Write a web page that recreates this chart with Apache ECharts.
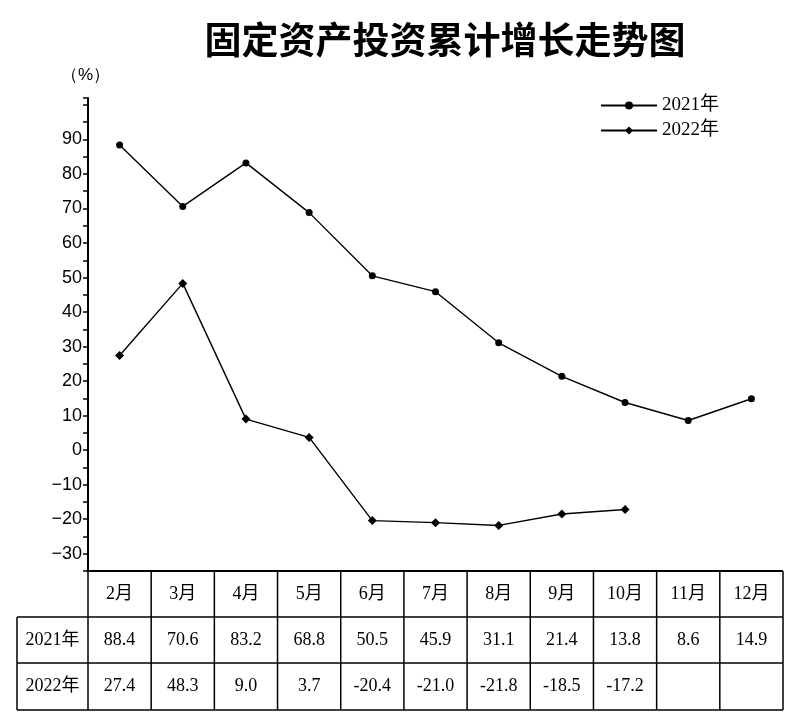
<!DOCTYPE html>
<html><head><meta charset="utf-8">
<script src="https://cdn.jsdelivr.net/npm/echarts@6/dist/echarts.min.js"></script>
<style>html,body{margin:0;padding:0;background:#fff}#c{width:794px;height:724px}</style>
</head><body><div id="c"></div>
<script>
const months = ['2月','3月','4月','5月','6月','7月','8月','9月','10月','11月','12月'];
const y2021 = [88.4,70.6,83.2,68.8,50.5,45.9,31.1,21.4,13.8,8.6,14.9];
const y2022 = [27.4,48.3,9.0,3.7,-20.4,-21.0,-21.8,-18.5,-17.2,null,null];
const label2021 = ['88.4','70.6','83.2','68.8','50.5','45.9','31.1','21.4','13.8','8.6','14.9'];
const label2022 = ['27.4','48.3','9.0','3.7','-20.4','-21.0','-21.8','-18.5','-17.2','',''];

const L = 88, R = 783, TOP = 98, BOT = 571;
const ROW2 = 617, ROW3 = 663, END = 710, TL = 17;
const cw = (R - L) / months.length;
const font = '"Liberation Serif","Noto Sans CJK SC",serif';
const g = [];
const line = (x1,y1,x2,y2,w)=>g.push({type:'line',shape:{x1,y1,x2,y2},style:{stroke:'#000',lineWidth:w||1.5}});
line(L,BOT,R,BOT,2); line(R,BOT,R,END); line(TL,ROW2,R,ROW2); line(TL,ROW3,R,ROW3); line(TL,END,R,END);
line(TL,ROW2,TL,END);
for (let i=0;i<months.length;i++) line(L+i*cw,BOT,L+i*cw,END);
const txt=(t,x,y)=>g.push({type:'text',x,y,style:{text:t,font:'18px '+font,fill:'#000',align:'center',verticalAlign:'middle'}});
txt('2021年',(TL+L)/2,(ROW2+ROW3)/2); txt('2022年',(TL+L)/2,(ROW3+END)/2);
months.forEach((m,i)=>{const cx=L+(i+0.5)*cw;txt(m,cx,(BOT+ROW2)/2);txt(label2021[i],cx,(ROW2+ROW3)/2);txt(label2022[i],cx,(ROW3+END)/2);});

const chart = echarts.init(document.getElementById('c'));
chart.setOption({
  animation:false,
  title:{text:'固定资产投资累计增长走势图',left:440,top:16,textAlign:'center',textStyle:{fontSize:37,fontWeight:'bold',color:'#000',fontFamily:'"Noto Sans CJK SC",sans-serif'}},
  legend:{right:70,top:91,orient:'vertical',itemWidth:56,itemHeight:10,itemGap:6,
    textStyle:{fontSize:19,color:'#000',fontFamily:font},data:['2021年','2022年']},
  grid:{left:L,right:794-R,top:TOP,bottom:724-BOT},
  xAxis:{type:'category',data:months,boundaryGap:true,axisLine:{show:false},axisTick:{show:false},axisLabel:{show:false}},
  yAxis:{type:'value',min:-35,max:102,interval:5,name:'（%）',nameLocation:'end',nameGap:14,
    nameTextStyle:{fontSize:17,color:'#000',align:'right',padding:[0,-22,0,0]},
    axisLine:{show:true,lineStyle:{color:'#000',width:2}},
    axisTick:{show:true,length:5,inside:false,lineStyle:{color:'#000',width:1.5}},
    splitLine:{show:false},
    axisLabel:{fontSize:18,color:'#000',margin:6,fontFamily:'"Liberation Sans",sans-serif',
      formatter:v=>(v%10===0 && v<100 && v>-35)?String(v).replace('-','−'):''}},
  series:[
    {name:'2021年',type:'line',data:y2021,symbol:'circle',symbolSize:7,itemStyle:{color:'#000'},lineStyle:{color:'#000',width:1.4}},
    {name:'2022年',type:'line',data:y2022,symbol:'diamond',symbolSize:9,itemStyle:{color:'#000'},lineStyle:{color:'#000',width:1.4}}
  ],
  graphic:g
});
</script></body></html>
